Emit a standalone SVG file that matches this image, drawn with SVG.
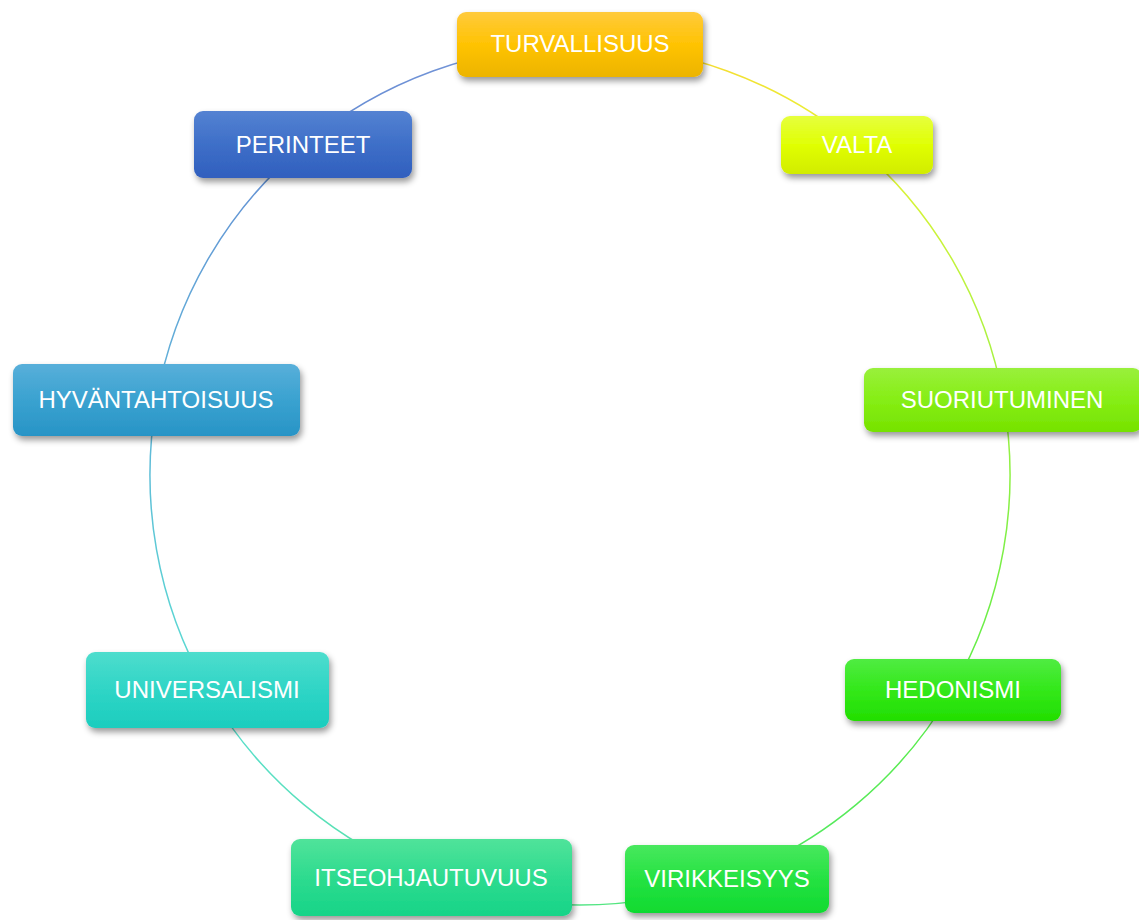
<svg xmlns="http://www.w3.org/2000/svg" width="1139" height="920" viewBox="0 0 1139 920">
<style>
.lbl{font-family:"Liberation Sans",Arial,sans-serif;font-size:24px;fill:#ffffff;text-anchor:middle;}
.box{filter:url(#sh);}
.arc{fill:none;stroke-width:1.5;stroke-opacity:0.8;}
</style>
<defs>
<filter id="sh" x="-10%" y="-20%" width="125%" height="150%">
<feDropShadow dx="2" dy="4" stdDeviation="3" flood-color="#000" flood-opacity="0.4"/>
</filter>
<linearGradient id="gTurv" x1="0" y1="0" x2="0" y2="1"><stop offset="0" stop-color="#FFCA3C"/><stop offset="0.5" stop-color="#FFC303"/><stop offset="1" stop-color="#ECB400"/></linearGradient>
<linearGradient id="gValta" x1="0" y1="0" x2="0" y2="1"><stop offset="0" stop-color="#E6FF3E"/><stop offset="0.5" stop-color="#E0FF04"/><stop offset="1" stop-color="#D2EC00"/></linearGradient>
<linearGradient id="gSuor" x1="0" y1="0" x2="0" y2="1"><stop offset="0" stop-color="#99F03C"/><stop offset="0.5" stop-color="#86EE14"/><stop offset="1" stop-color="#76E200"/></linearGradient>
<linearGradient id="gHedo" x1="0" y1="0" x2="0" y2="1"><stop offset="0" stop-color="#50EC42"/><stop offset="0.5" stop-color="#33E81A"/><stop offset="1" stop-color="#22DE00"/></linearGradient>
<linearGradient id="gViri" x1="0" y1="0" x2="0" y2="1"><stop offset="0" stop-color="#48E85E"/><stop offset="0.5" stop-color="#25E242"/><stop offset="1" stop-color="#10DA30"/></linearGradient>
<linearGradient id="gItse" x1="0" y1="0" x2="0" y2="1"><stop offset="0" stop-color="#50E39A"/><stop offset="0.5" stop-color="#2EDB8F"/><stop offset="1" stop-color="#16D488"/></linearGradient>
<linearGradient id="gUniv" x1="0" y1="0" x2="0" y2="1"><stop offset="0" stop-color="#4EDDCD"/><stop offset="0.5" stop-color="#2FD5C6"/><stop offset="1" stop-color="#1CCDBE"/></linearGradient>
<linearGradient id="gHyv" x1="0" y1="0" x2="0" y2="1"><stop offset="0" stop-color="#58AFDA"/><stop offset="0.5" stop-color="#3AA2D0"/><stop offset="1" stop-color="#2894C6"/></linearGradient>
<linearGradient id="gPer" x1="0" y1="0" x2="0" y2="1"><stop offset="0" stop-color="#5482D2"/><stop offset="0.5" stop-color="#3E6FC8"/><stop offset="1" stop-color="#305FBE"/></linearGradient>
<linearGradient id="a1" gradientUnits="userSpaceOnUse" x1="580" y1="45" x2="856.4" y2="145.6"><stop offset="0" stop-color="#FFC000"/><stop offset="1" stop-color="#E0F000"/></linearGradient>
<linearGradient id="a2" gradientUnits="userSpaceOnUse" x1="856.4" y1="145.6" x2="1003.5" y2="400.3"><stop offset="0" stop-color="#E0F000"/><stop offset="1" stop-color="#86EE14"/></linearGradient>
<linearGradient id="a3" gradientUnits="userSpaceOnUse" x1="1003.5" y1="400.3" x2="952.4" y2="690"><stop offset="0" stop-color="#86EE14"/><stop offset="1" stop-color="#33E81A"/></linearGradient>
<linearGradient id="a4" gradientUnits="userSpaceOnUse" x1="952.4" y1="690" x2="727.1" y2="879.1"><stop offset="0" stop-color="#33E81A"/><stop offset="1" stop-color="#25E242"/></linearGradient>
<linearGradient id="a5" gradientUnits="userSpaceOnUse" x1="727.1" y1="879.1" x2="432.9" y2="879.1"><stop offset="0" stop-color="#25E242"/><stop offset="1" stop-color="#2EDB8F"/></linearGradient>
<linearGradient id="a6" gradientUnits="userSpaceOnUse" x1="432.9" y1="879.1" x2="207.6" y2="690"><stop offset="0" stop-color="#2EDB8F"/><stop offset="1" stop-color="#2FD5C6"/></linearGradient>
<linearGradient id="a7" gradientUnits="userSpaceOnUse" x1="207.6" y1="690" x2="156.5" y2="400.3"><stop offset="0" stop-color="#2FD5C6"/><stop offset="1" stop-color="#3AA2D0"/></linearGradient>
<linearGradient id="a8" gradientUnits="userSpaceOnUse" x1="156.5" y1="400.3" x2="303.6" y2="145.6"><stop offset="0" stop-color="#3AA2D0"/><stop offset="1" stop-color="#3E6FC8"/></linearGradient>
<linearGradient id="a9" gradientUnits="userSpaceOnUse" x1="303.6" y1="145.6" x2="580" y2="45"><stop offset="0" stop-color="#3E6FC8"/><stop offset="1" stop-color="#5A7FD0"/></linearGradient>
</defs>
<rect width="1139" height="920" fill="#ffffff"/>
<g id="connectors">
<path class="arc" stroke="url(#a1)" d="M580,45 A430,430 0 0 1 856.4,145.6"/>
<path class="arc" stroke="url(#a2)" d="M856.4,145.6 A430,430 0 0 1 1003.5,400.3"/>
<path class="arc" stroke="url(#a3)" d="M1003.5,400.3 A430,430 0 0 1 952.4,690"/>
<path class="arc" stroke="url(#a4)" d="M952.4,690 A430,430 0 0 1 727.1,879.1"/>
<path class="arc" stroke="url(#a5)" d="M727.1,879.1 A430,430 0 0 1 432.9,879.1"/>
<path class="arc" stroke="url(#a6)" d="M432.9,879.1 A430,430 0 0 1 207.6,690"/>
<path class="arc" stroke="url(#a7)" d="M207.6,690 A430,430 0 0 1 156.5,400.3"/>
<path class="arc" stroke="url(#a8)" d="M156.5,400.3 A430,430 0 0 1 303.6,145.6"/>
<path class="arc" stroke="url(#a9)" d="M303.6,145.6 A430,430 0 0 1 580,45"/>
</g>
<g id="turvallisuus"><rect class="box" x="457" y="12" width="246" height="65" rx="9" fill="url(#gTurv)"/><text class="lbl" x="580" y="52">TURVALLISUUS</text></g>
<g id="valta"><rect class="box" x="781" y="116" width="152" height="58" rx="9" fill="url(#gValta)"/><text class="lbl" x="857" y="153">VALTA</text></g>
<g id="suoriutuminen"><rect class="box" x="864" y="368" width="278" height="64" rx="9" fill="url(#gSuor)"/><text class="lbl" x="1002" y="408">SUORIUTUMINEN</text></g>
<g id="hedonismi"><rect class="box" x="845" y="659" width="216" height="62" rx="9" fill="url(#gHedo)"/><text class="lbl" x="953" y="698">HEDONISMI</text></g>
<g id="virikkeisyys"><rect class="box" x="625" y="845" width="204" height="68" rx="9" fill="url(#gViri)"/><text class="lbl" x="727" y="887">VIRIKKEISYYS</text></g>
<g id="itseohjautuvuus"><rect class="box" x="291" y="839" width="281" height="77" rx="9" fill="url(#gItse)"/><text class="lbl" x="431" y="886">ITSEOHJAUTUVUUS</text></g>
<g id="universalismi"><rect class="box" x="86" y="652" width="243" height="76" rx="9" fill="url(#gUniv)"/><text class="lbl" x="207" y="698">UNIVERSALISMI</text></g>
<g id="hyvantahtoisuus"><rect class="box" x="13" y="364" width="287" height="72" rx="9" fill="url(#gHyv)"/><text class="lbl" x="156" y="408">HYVÄNTAHTOISUUS</text></g>
<g id="perinteet"><rect class="box" x="194" y="111" width="218" height="67" rx="9" fill="url(#gPer)"/><text class="lbl" x="303" y="153">PERINTEET</text></g>
</svg>
